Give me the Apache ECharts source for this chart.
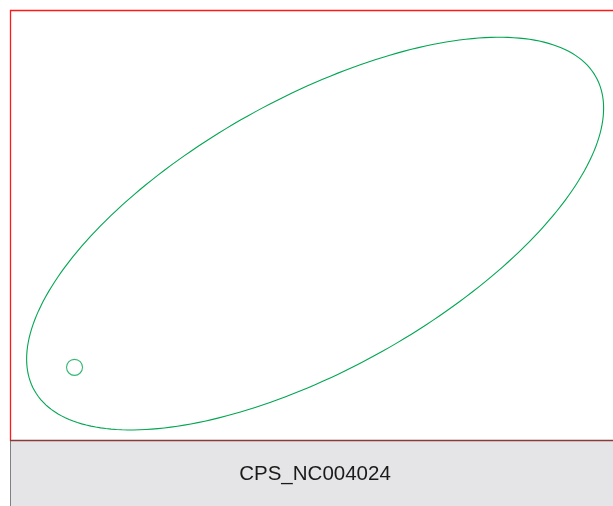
<!DOCTYPE html>
<html>
<head>
<meta charset="utf-8">
<script src="https://cdn.jsdelivr.net/npm/echarts@6/dist/echarts.min.js"></script>
<style>html,body{margin:0;padding:0;background:#fff;}#c{width:613px;height:506px;}</style>
</head>
<body>
<div id="c"></div>
<script>
// Data (in data units of hidden axes)
const xRange = [0, 100];
const yRange = [0, 100];
const facetLabel = 'CPS_NC004024';
// Confidence ellipse: centre and covariance (sxx, sxy, syy)
const ellipseCenter = [50.6, 48.0];
const ellipseCov = [2289, 1395, 2085];
// Sample points
const pointX = [10.7];
const pointY = [16.9];

const green = '#00A651';
const red = '#FF1A1A';
const chart = echarts.init(document.getElementById('c'), null, {renderer: 'canvas'});

const ellipseData = [[ellipseCenter[0], ellipseCenter[1], ellipseCov[0], ellipseCov[1], ellipseCov[2]]];
const points = pointX.map((x, i) => [x, pointY[i]]);

chart.setOption({
  animation: false,
  grid: {left: 10, right: 0, top: 10, bottom: 66, show: false},
  xAxis: {type: 'value', min: xRange[0], max: xRange[1], show: false},
  yAxis: {type: 'value', min: yRange[0], max: yRange[1], show: false},
  series: [
    {
      type: 'custom',
      data: ellipseData,
      clip: false,
      renderItem: function (params, api) {
        const cx = api.value(0), cy = api.value(1);
        const sxx = api.value(2), sxy = api.value(3), syy = api.value(4);
        const l11 = Math.sqrt(sxx), l21 = sxy / l11, l22 = Math.sqrt(syy - l21 * l21);
        const pts = [];
        const n = 240;
        for (let k = 0; k < n; k++) {
          const t = 2 * Math.PI * k / n;
          pts.push(api.coord([cx + l11 * Math.cos(t), cy + l21 * Math.cos(t) + l22 * Math.sin(t)]));
        }
        return {type: 'polygon', shape: {points: pts}, style: {fill: 'none', stroke: green, lineWidth: 1.1}};
      }
    },
    {
      type: 'scatter',
      data: points,
      symbol: 'circle',
      symbolSize: 16,
      itemStyle: {color: 'rgba(0,0,0,0)', borderColor: green, borderWidth: 1.1}
    }
  ],
  graphic: [
    {type: 'polyline', shape: {points: [[10.5, 441], [10.5, 10.5], [614, 10.5]]}, style: {stroke: red, lineWidth: 1.3, fill: null}, z: 9},
    {type: 'rect', shape: {x: 10.5, y: 440.5, width: 610, height: 70}, style: {fill: '#E5E5E7', stroke: '#808080', lineWidth: 1}, z: 10},
    {type: 'line', shape: {x1: 10, y1: 440.5, x2: 613, y2: 440.5}, style: {stroke: '#8B3A3A', lineWidth: 1.5}, z: 11},
    {type: 'text', x: 315, y: 474, style: {text: facetLabel, font: '20.5px "Liberation Sans", Arial, sans-serif', fill: '#1A1A1A', textAlign: 'center', textVerticalAlign: 'middle'}, z: 12}
  ]
});
</script>
</body>
</html>
